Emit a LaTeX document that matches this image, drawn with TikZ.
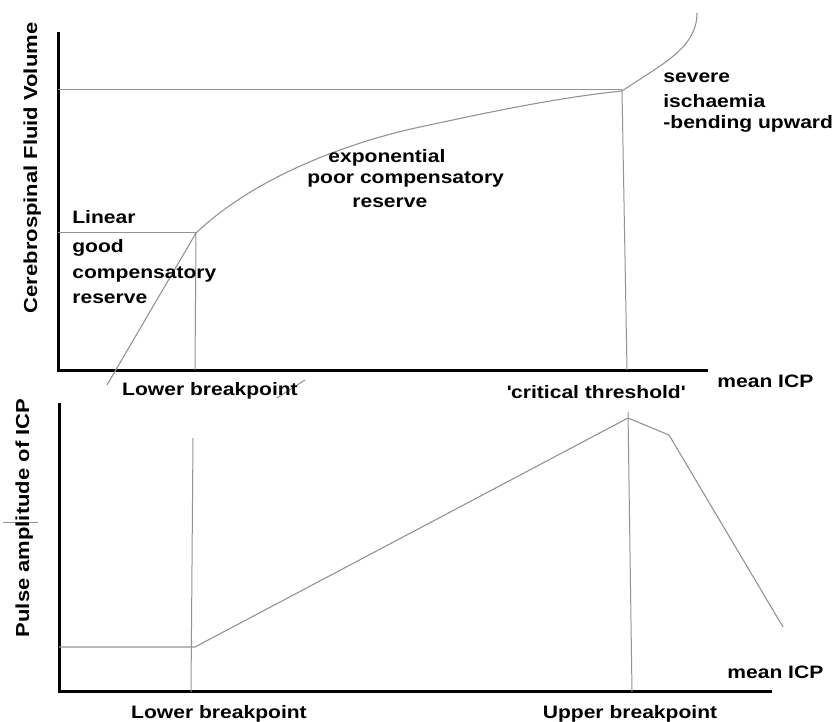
\documentclass[tikz,border=0pt]{standalone}
\usepackage{fontspec}
\setmainfont{Liberation Sans}[FakeStretch=1.17]
\usetikzlibrary{positioning}
\tikzset{every picture/.style={line width=0.75pt}}
\tikzset{
  axis/.style={line width=3pt, black},
  guide/.style={line width=1pt, color=gray!85},
  curve/.style={line width=1.1pt, color=gray!85, line join=round},
  lbl/.style={inner sep=0pt, font=\bfseries\fontsize{18}{22}\selectfont},
  ylbl/.style={inner sep=0pt, rotate=90, anchor=base, font=\bfseries\fontsize{18.8}{22}\selectfont}
}
\begin{document}
\begin{tikzpicture}[x=1pt,y=-1pt]
\useasboundingbox (0,0) rectangle (838,722);
%
\coordinate (v0) at (58,32);
\coordinate (v1) at (58,370);
\coordinate (v2) at (708,370);
\coordinate (v3) at (58,233);
\coordinate (v4) at (196,233);
\coordinate (v5) at (195,370);
\coordinate (v6) at (58,90);
\coordinate (v7) at (622,90);
\coordinate (v8) at (627,370);
\coordinate (v9) at (107,385);
\coordinate (v10) at (420,127);
\coordinate (v11) at (622,91);
\coordinate (v12) at (697,13);
%
\coordinate (p0) at (59,403);
\coordinate (p1) at (59,691);
\coordinate (p2) at (772,691);
\coordinate (p3) at (59,647);
\coordinate (p4) at (195,647);
\coordinate (p5) at (628,418);
\coordinate (p6) at (669,435);
\coordinate (p7) at (783,627);
\coordinate (p8) at (193,438);
\coordinate (p9) at (191,692);
\coordinate (p10) at (628,412);
\coordinate (p11) at (632,692);
%
\draw[axis] (v0) -- (v1) -- (v2);
\draw[axis] (p0) -- (p1) -- (p2);
%
\foreach \Source/\Target in {%
	v3/v4,
	v4/v5,
	v6/v7,
	v7/v8,
	p8/p9,
	p10/p11%
    }
\draw[guide] (\Source) to (\Target);
%
\draw[curve] (v9) -- (v4) .. controls (256,176) and (350,142) .. (v10)
  .. controls (490,112) and (555,98) .. (v11)
  .. controls (662,64) and (697,48) .. (v12);
\draw[curve] (p3) -- (p4) -- (p5) -- (p6) -- (p7);
%
\draw[guide] (277,398) -- (305,380);
\draw[guide] (3,522) -- (38,522);
%
\node[ylbl] (1) at (37,168) {Cerebrospinal Fluid Volume};
\node[ylbl] (2) at (29,518) {Pulse amplitude of ICP};
%
\node[lbl, anchor=base west] (3) at (72,224) {Linear};
\node[lbl, anchor=base west] (4) at (72,253) {good};
\node[lbl, anchor=base west] (5) at (72,278) {compensatory};
\node[lbl, anchor=base west] (6) at (72,303) {reserve};
%
\node[lbl, anchor=base west] (7) at (328,163) {exponential};
\node[lbl, anchor=base west] (8) at (307,184) {poor compensatory};
\node[lbl, anchor=base west] (9) at (352,208) {reserve};
%
\node[lbl, anchor=base west] (10) at (663,83) {severe};
\node[lbl, anchor=base west] (11) at (663,108) {ischaemia};
\node[lbl, anchor=base west] (12) at (663,129) {-bending upward};
%
\node[lbl, anchor=base] (13) at (210,395) {Lower breakpoint};
\node[lbl, anchor=base] (14) at (596,398) {\textquotesingle critical threshold\textquotesingle};
\node[lbl, anchor=base west] (15) at (717,387) {mean ICP};
%
\node[lbl, anchor=base west] (16) at (727,678) {mean ICP};
\node[lbl, anchor=base] (17) at (219,718) {Lower breakpoint};
\node[lbl, anchor=base] (18) at (630,718) {Upper breakpoint};
\end{tikzpicture}
\end{document}
